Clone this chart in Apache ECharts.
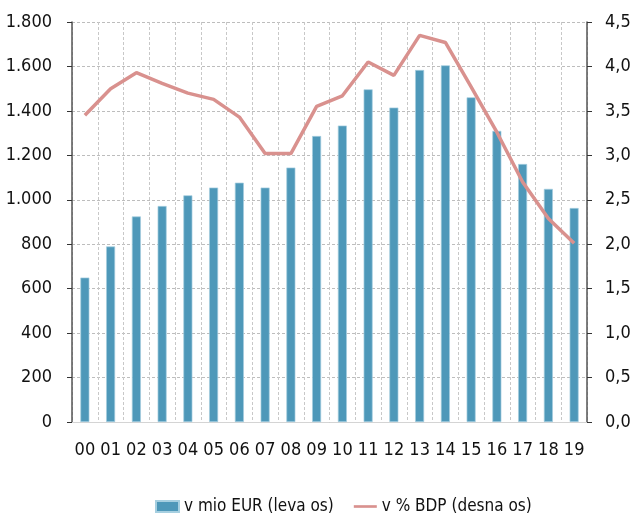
<!DOCTYPE html>
<html>
<head>
<meta charset="utf-8">
<script src="https://cdn.jsdelivr.net/npm/echarts@6/dist/echarts.min.js"></script>
<style>
  html, body { margin: 0; padding: 0; background: #fff; }
  #chart { width: 636px; height: 522px; }
</style>
</head>
<body>
<div id="chart"></div>
<script>
// Years (two-digit) on the category axis
const years = ['00','01','02','03','04','05','06','07','08','09','10','11','12','13','14','15','16','17','18','19'];
// Amount in millions of EUR (left axis)
const mioEur = [650, 790, 925, 972, 1020, 1055, 1077, 1055, 1145, 1287, 1334, 1497, 1415, 1584, 1605, 1461, 1310, 1161, 1049, 963];
// Share of GDP in percent (right axis)
const pctBdp = [3.45, 3.75, 3.93, 3.81, 3.70, 3.63, 3.43, 3.02, 3.02, 3.55, 3.67, 4.05, 3.90, 4.35, 4.27, 3.77, 3.26, 2.70, 2.29, 2.01];

const seriesNames = ['v mio EUR (leva os)', 'v % BDP (desna os)'];

const FONT = '"DejaVu Sans Condensed", "Liberation Sans Narrow", sans-serif';
const TEXT = '#111';

const chart = echarts.init(document.getElementById('chart'));

chart.setOption({
  animation: false,
  textStyle: { fontFamily: FONT },
  grid: { left: 72, right: 49, top: 22, bottom: 100 },
  legend: {
    bottom: 2,
    left: 150,
    itemWidth: 23,
    itemHeight: 11,
    itemGap: 20,
    textStyle: { fontFamily: FONT, fontSize: 17, color: TEXT },
    data: [
      { name: seriesNames[0], icon: 'rect' },
      { name: seriesNames[1], icon: 'path://M0,0 H26 V3 H0 Z', itemStyle: { color: '#d9918e' } }
    ]
  },
  xAxis: {
    type: 'category',
    data: years,
    boundaryGap: true,
    axisLine: { lineStyle: { color: '#d4d4d4', width: 1 } },
    axisTick: { show: false },
    axisLabel: { fontFamily: FONT, fontSize: 18, color: TEXT, margin: 19, interval: 0 },
    splitLine: { show: true, interval: 0, lineStyle: { color: '#c8c8c8', type: [3, 2], width: 1 } }
  },
  yAxis: [
    {
      type: 'value',
      min: 0, max: 1800, interval: 200,
      axisLine: { show: true, lineStyle: { color: '#555', width: 1.5 } },
      axisTick: { show: true, length: 5, lineStyle: { color: '#333' } },
      axisLabel: {
        fontFamily: FONT, fontSize: 18, color: TEXT, margin: 20,
        formatter: v => v >= 1000 ? Math.floor(v / 1000) + '.' + String(v % 1000).padStart(3, '0') : String(v)
      },
      splitLine: { show: true, lineStyle: { color: '#bdbdbd', type: [3, 2], width: 1 } }
    },
    {
      type: 'value',
      min: 0, max: 4.5, interval: 0.5,
      position: 'right',
      axisLine: { show: true, lineStyle: { color: '#555', width: 1.5 } },
      axisTick: { show: true, length: 5, lineStyle: { color: '#333' } },
      axisLabel: {
        fontFamily: FONT, fontSize: 18, color: TEXT, margin: 18,
        formatter: v => v.toFixed(1).replace('.', ',')
      },
      splitLine: { show: false }
    }
  ],
  series: [
    {
      name: seriesNames[0],
      type: 'bar',
      yAxisIndex: 0,
      data: mioEur,
      barWidth: 9,
      itemStyle: { color: '#4e98b9', borderColor: '#a6cfe0', borderWidth: 0.7 },
      z: 2
    },
    {
      name: seriesNames[1],
      type: 'line',
      yAxisIndex: 1,
      data: pctBdp,
      symbol: 'none',
      lineStyle: { color: '#d9918e', width: 3.5 },
      itemStyle: { color: '#d9918e' },
      z: 3
    }
  ]
});
</script>
</body>
</html>
